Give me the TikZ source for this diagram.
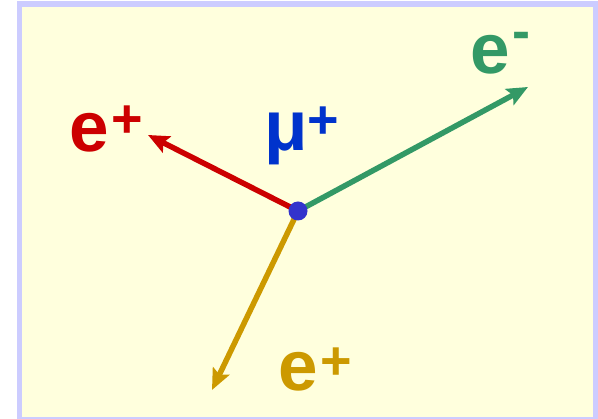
\documentclass[tikz,border=0pt]{standalone}
\usepackage{fontspec}
\setmainfont{Liberation Sans}
\usetikzlibrary{arrows.meta}
\definecolor{bgfill}{RGB}{255,255,221}
\definecolor{bgline}{RGB}{204,204,255}
\definecolor{posred}{RGB}{204,0,0}
\definecolor{elgreen}{RGB}{51,153,102}
\definecolor{posgold}{RGB}{204,153,0}
\definecolor{mublue}{RGB}{0,51,204}
\definecolor{dotblue}{RGB}{51,51,204}
\newcommand\bigtxt{\fontsize{71}{71}\selectfont\bfseries}
\newcommand\suptxt{\fontsize{54}{54}\selectfont\bfseries}
\tikzset{
  particle/.style={line width=5.5pt, -{Stealth[length=21pt,width=18pt,inset=4pt]}},
  lbl/.style={inner sep=0pt, anchor=base west}
}
\begin{document}
\begin{tikzpicture}[x=1pt,y=-1pt]
\useasboundingbox (0,0) rectangle (598,419);
\draw[bgline, fill=bgfill, line width=5.5pt] (19.5,4) rectangle (595.5,419.5);
\coordinate (c) at (298,211);
\coordinate (tr) at (148,135);
\coordinate (tg) at (528,87);
\coordinate (to) at (212,390);
\draw[particle, posred] (c) -- (tr);
\draw[particle, elgreen] (c) -- (tg);
\draw[particle, posgold] (c) -- (to);
\node[circle, fill=dotblue, minimum size=19pt, inner sep=0pt] (dot) at (c) {};
\node[lbl, text=posred] (lr) at (69.5,152) {\bigtxt e\kern2pt\raisebox{14pt}{\suptxt +}};
\node[lbl, text=elgreen] (lg) at (470.5,74) {\bigtxt e\kern2pt\raisebox{24pt}{\suptxt -}};
\node[lbl, text=posgold] (lo) at (278.5,391) {\bigtxt e\kern2pt\raisebox{11pt}{\suptxt +}};
\node[lbl, text=mublue] (lm) at (264,151) {\bigtxt μ\kern0pt\raisebox{12pt}{\suptxt +}};
\end{tikzpicture}
\end{document}
